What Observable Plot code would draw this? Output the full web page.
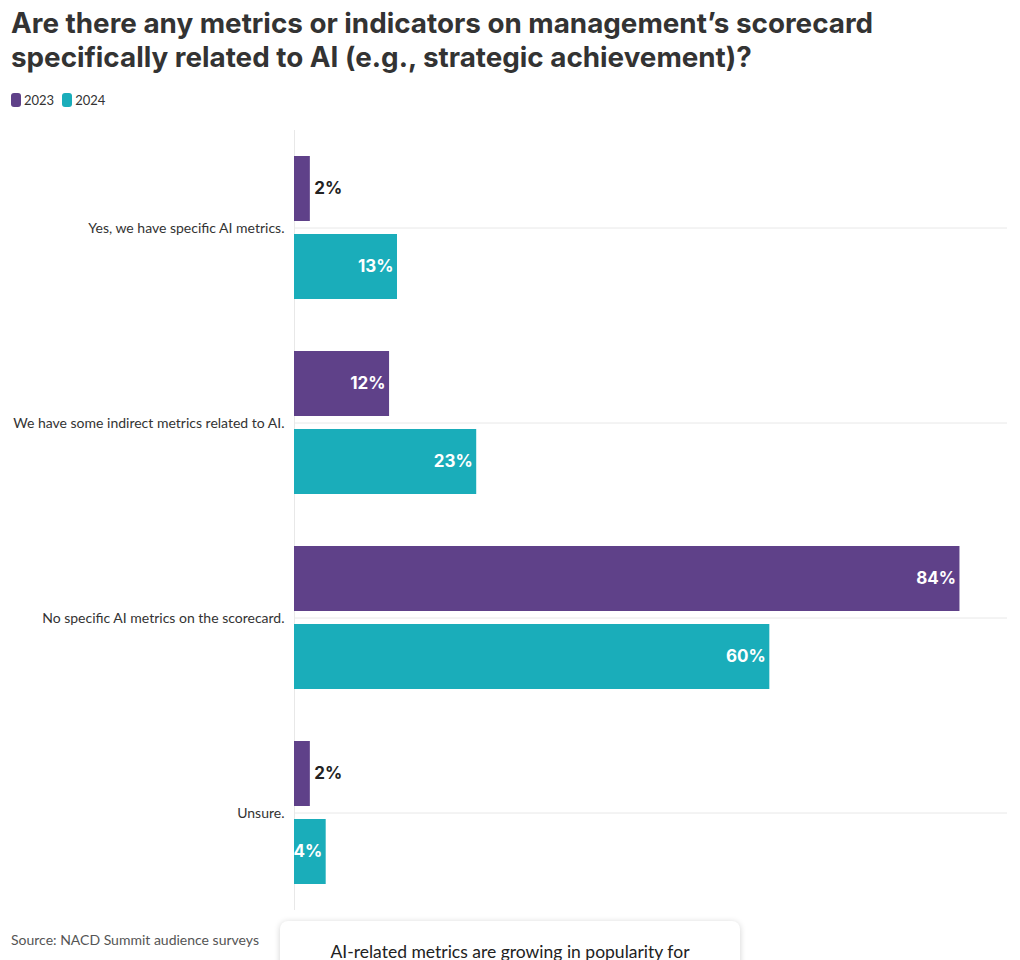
<!DOCTYPE html>
<html>
<head>
<meta charset="utf-8">
<script src="https://cdn.jsdelivr.net/npm/d3@7"></script>
<script src="https://cdn.jsdelivr.net/npm/@observablehq/plot@0.6"></script>
<style>
  html, body { margin: 0; padding: 0; background: #fff; }
  body { width: 1020px; height: 960px; overflow: hidden; position: relative; font-family: Lato, "Noto Sans", sans-serif; color: #333; }
  h1 { position: absolute; left: 11px; top: 6px; margin: 0; font-family: Inter, Lato, sans-serif; font-size: 27.8px; line-height: 34px; font-weight: 700; color: #333; width: 900px; }
  .legend { position: absolute; left: 11px; top: 92px; font-size: 13px; display: flex; align-items: center; color: #333; }
  .legend .sw { display: inline-block; width: 10px; height: 14px; border-radius: 3px; margin-right: 3px; }
  .legend .item { display: flex; align-items: center; margin-right: 8px; }
  #chart { position: absolute; left: 0; top: 120px; }
  .source { position: absolute; left: 11px; top: 931px; font-size: 14px; color: #555; }
  .card { position: absolute; left: 280px; top: 921px; width: 460px; height: 80px; background: #fff; border-radius: 8px; box-shadow: 0 1px 6px rgba(0,0,0,0.18); text-align: center; font-size: 17.5px; color: #222; padding-top: 20px; box-sizing: border-box; }
</style>
</head>
<body>
<h1>Are there any metrics or indicators on management’s scorecard specifically related to AI (e.g., strategic achievement)?</h1>
<div class="legend" id="legend"></div>
<div id="chart"></div>
<div class="source">Source: NACD Summit audience surveys</div>
<div class="card">AI-related metrics are growing in popularity for</div>
<script>
const categories = [
  "Yes, we have specific AI metrics.",
  "We have some indirect metrics related to AI.",
  "No specific AI metrics on the scorecard.",
  "Unsure."
];
const years = ["2023", "2024"];
const values2023 = [2, 12, 84, 2];
const values2024 = [13, 23, 60, 4];
const colors = ["#5f4189", "#1aadba"];

const data = categories.flatMap((c, i) => [
  {category: c, year: years[0], value: values2023[i]},
  {category: c, year: years[1], value: values2024[i]}
]);

const legend = document.getElementById("legend");
years.forEach((y, i) => {
  const item = document.createElement("span");
  item.className = "item";
  item.innerHTML = `<span class="sw" style="background:${colors[i]}"></span>${y}`;
  legend.appendChild(item);
});

const chart = Plot.plot({
  width: 1020,
  height: 800,
  marginLeft: 294,
  marginRight: 13,
  marginTop: 10,
  marginBottom: 10,
  style: {fontFamily: "Lato, 'Noto Sans', sans-serif", color: "#333"},
  x: {domain: [0, 90], axis: null},
  y: {domain: years, paddingInner: 0.167, paddingOuter: 0.333, axis: null},
  fy: {domain: categories, padding: 0, axis: null},
  color: {domain: years, range: colors},
  marks: [
    Plot.gridFy({stroke: "#e8e8e8", strokeOpacity: 1}),
    Plot.axisFy({anchor: "left", tickSize: 0, tickPadding: 10, label: null, fontSize: 14, fill: "#333", dy: 1}),
    Plot.ruleX([0], {stroke: "#e8e8e8"}),
    Plot.barX(data, {x: "value", y: "year", fy: "category", fill: "year"}),
    Plot.text(data.filter(d => d.value >= 4), {
      x: "value", y: "year", fy: "category", text: d => d.value + "%",
      textAnchor: "end", dx: -4, fill: "white", fontWeight: 700, fontSize: 17,
      fontFamily: "Inter, Lato, sans-serif"
    }),
    Plot.text(data.filter(d => d.value < 4), {
      x: "value", y: "year", fy: "category", text: d => d.value + "%",
      textAnchor: "start", dx: 4, fill: "#222", fontWeight: 700, fontSize: 17,
      fontFamily: "Inter, Lato, sans-serif"
    })
  ]
});
document.getElementById("chart").appendChild(chart);
</script>
</body>
</html>
